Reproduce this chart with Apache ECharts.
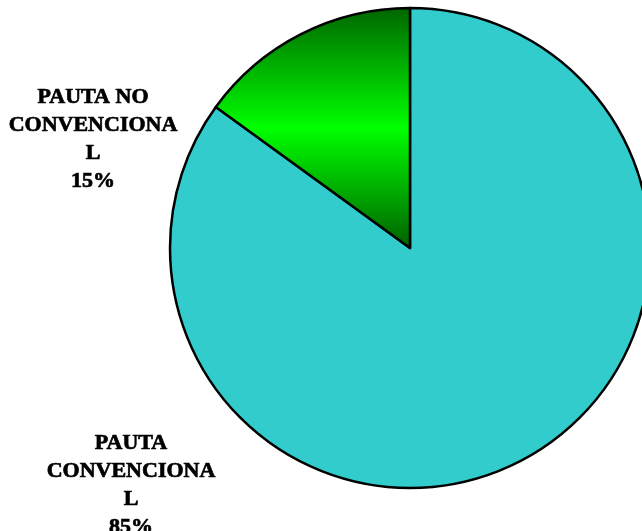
<!DOCTYPE html>
<html>
<head>
<meta charset="utf-8">
<style>
  html, body { margin: 0; padding: 0; background: #ffffff; }
  #chart { width: 642px; height: 531px; }
</style>
<script src="https://cdn.jsdelivr.net/npm/echarts@6/dist/echarts.min.js"></script>
</head>
<body>
<div id="chart"></div>
<script>
// Category labels as printed (wrapped the way the chart wraps them)
const categories = ['PAUTA\nCONVENCIONA\nL', 'PAUTA NO\nCONVENCIONA\nL'];
// Share of each category
const values = [85, 15];

const cx = 410, cy = 248, r = 240;

// Fill for each slice: flat teal, and a vertical dark-bright-dark green band
const fills = [
  '#33CCCC',
  new echarts.graphic.LinearGradient(0, cy - r, 0, cy, [
    { offset: 0, color: '#006600' },
    { offset: 0.5, color: '#00ff00' },
    { offset: 1, color: '#006000' }
  ], true)
];

// Where each label block is centred
const labelSpots = [
  { x: 131, y: 485 },
  { x: 93, y: 139 }
];

const chart = echarts.init(document.getElementById('chart'), null, { renderer: 'canvas' });
chart.setOption({
  animation: false,
  backgroundColor: '#ffffff',
  series: [{
    type: 'pie',
    center: [cx, cy],
    radius: r,
    startAngle: 90,
    clockwise: true,
    avoidLabelOverlap: false,
    emphasis: { disabled: true },
    itemStyle: { borderColor: '#000000', borderWidth: 2.5 },
    label: {
      show: true,
      position: 'outside',
      formatter: p => p.name + '\n' + Math.round(p.percent) + '%',
      fontFamily: 'Liberation Serif',
      fontWeight: 'bold',
      fontSize: 22,
      lineHeight: 28,
      color: '#000000',
      textBorderColor: '#000000',
      textBorderWidth: 0.7,
      align: 'center'
    },
    labelLine: { show: false },
    labelLayout: p => ({
      x: labelSpots[p.dataIndex].x,
      y: labelSpots[p.dataIndex].y,
      align: 'center',
      verticalAlign: 'middle',
      hideOverlap: false
    }),
    data: categories.map((c, i) => ({
      name: c,
      value: values[i],
      itemStyle: { color: fills[i] }
    }))
  }]
});
</script>
</body>
</html>
